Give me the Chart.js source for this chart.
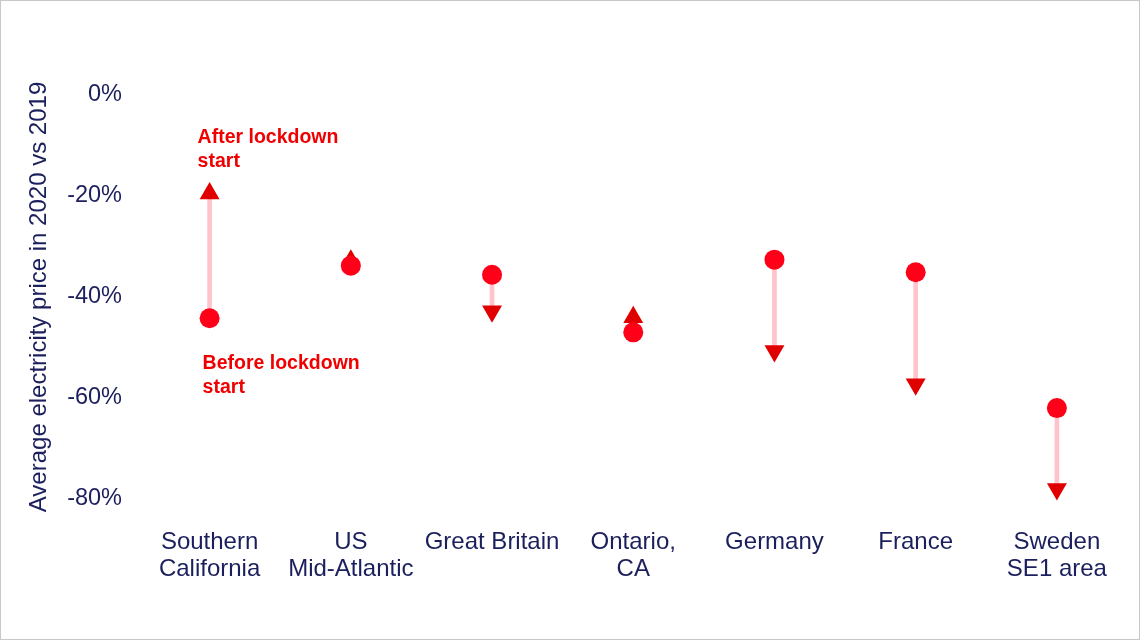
<!DOCTYPE html>
<html>
<head>
<meta charset="utf-8">
<script src="https://cdn.jsdelivr.net/npm/chart.js@4.4.0/dist/chart.umd.min.js"></script>
<style>
  html, body { margin: 0; padding: 0; background: #fff; }
  #wrap {
    width: 1138px; height: 638px;
    border: 1px solid #c8c8c8;
    position: relative;
  }
</style>
</head>
<body>
<div id="wrap"><canvas id="chart"></canvas></div>
<script>
// Datos
const categories = [
    ["Southern", "California"],
    ["US", "Mid-Atlantic"],
    ["Great Britain"],
    ["Ontario,", "CA"],
    ["Germany"],
    ["France"],
    ["Sweden", "SE1 area"]
];
const beforeLockdown = [-44.2, -33.8, -35.6, -47.0, -32.6, -35.1, -62.0];
const afterLockdown  = [-19.5, -32.8, -42.8, -44.0, -50.7, -57.3, -78.0];
const yTicks = [0, -20, -40, -60, -80];

const NAVY = "#1b1f5c";
const FONT = "'Liberation Sans', Arial, sans-serif";

// Flechas hacia arriba o abajo segun el cambio
const arrowRotation = afterLockdown.map((a, i) => a > beforeLockdown[i] ? 0 : 180);

// Textos "After / Before lockdown start"
const notesPlugin = {
    id: "notes",
    afterDatasetsDraw(chart) {
        const { ctx, scales } = chart;
        const x0 = scales.x.getPixelForValue(0);
        const yAfter = scales.y.getPixelForValue(afterLockdown[0]);
        const yBefore = scales.y.getPixelForValue(beforeLockdown[0]);
        ctx.save();
        ctx.fillStyle = "#f00000";
        ctx.font = "bold 19.5px " + FONT;
        ctx.textAlign = "left";
        ctx.textBaseline = "middle";
        ctx.fillText("After lockdown", x0 - 12, yAfter - 56);
        ctx.fillText("start", x0 - 12, yAfter - 32);
        ctx.fillText("Before lockdown", x0 - 7, yBefore + 45);
        ctx.fillText("start", x0 - 7, yBefore + 69);
        ctx.restore();
    }
};

const ctx = document.getElementById("chart").getContext("2d");

new Chart(ctx, {
    data: {
        labels: categories,
        datasets: [
            {
                type: "line",
                label: "Before lockdown start",
                data: beforeLockdown,
                showLine: false,
                pointStyle: "circle",
                pointRadius: 10,
                pointBorderWidth: 0,
                pointBackgroundColor: "#ff0019",
                pointBorderColor: "#ff0019",
                clip: false
            },
            {
                type: "line",
                label: "After lockdown start",
                data: afterLockdown,
                showLine: false,
                pointStyle: "triangle",
                pointRotation: arrowRotation,
                pointRadius: 11.5,
                pointBorderWidth: 0,
                pointBackgroundColor: "#e00000",
                pointBorderColor: "#e00000",
                clip: false
            },
            {
                type: "bar",
                label: "change",
                data: beforeLockdown.map((b, i) => [b, afterLockdown[i]]),
                backgroundColor: "#ffc3cb",
                barThickness: 4,
                borderSkipped: false
            }
        ]
    },
    options: {
        responsive: true,
        maintainAspectRatio: false,
        animation: false,
        layout: { padding: { top: 94, right: 4, bottom: 26, left: 20 } },
        plugins: {
            legend: { display: false },
            tooltip: { enabled: false }
        },
        scales: {
            x: {
                type: "category",
                offset: true,
                grid: { display: false, drawTicks: false },
                border: { display: false },
                ticks: {
                    color: NAVY,
                    font: { family: FONT, size: 24, lineHeight: 1.125 },
                    padding: 30,
                    maxRotation: 0,
                    autoSkip: false
                },
                afterFit(scale) {
                    scale.paddingLeft = 0;
                    scale.paddingRight = 0;
                }
            },
            y: {
                min: -80,
                max: 0,
                afterBuildTicks(scale) {
                    scale.ticks = yTicks.map(v => ({ value: v }));
                },
                afterFit(scale) {
                    scale.width = 118;
                },
                grid: { display: false, drawTicks: false },
                border: { display: false },
                ticks: {
                    color: NAVY,
                    font: { family: FONT, size: 23.5 },
                    padding: 17,
                    callback: v => v + "%"
                },
                title: {
                    display: true,
                    text: "Average electricity price in 2020 vs 2019",
                    color: NAVY,
                    font: { family: FONT, size: 24 },
                    padding: { top: 4, bottom: 4 }
                }
            }
        }
    },
    plugins: [notesPlugin]
});
</script>
</body>
</html>
